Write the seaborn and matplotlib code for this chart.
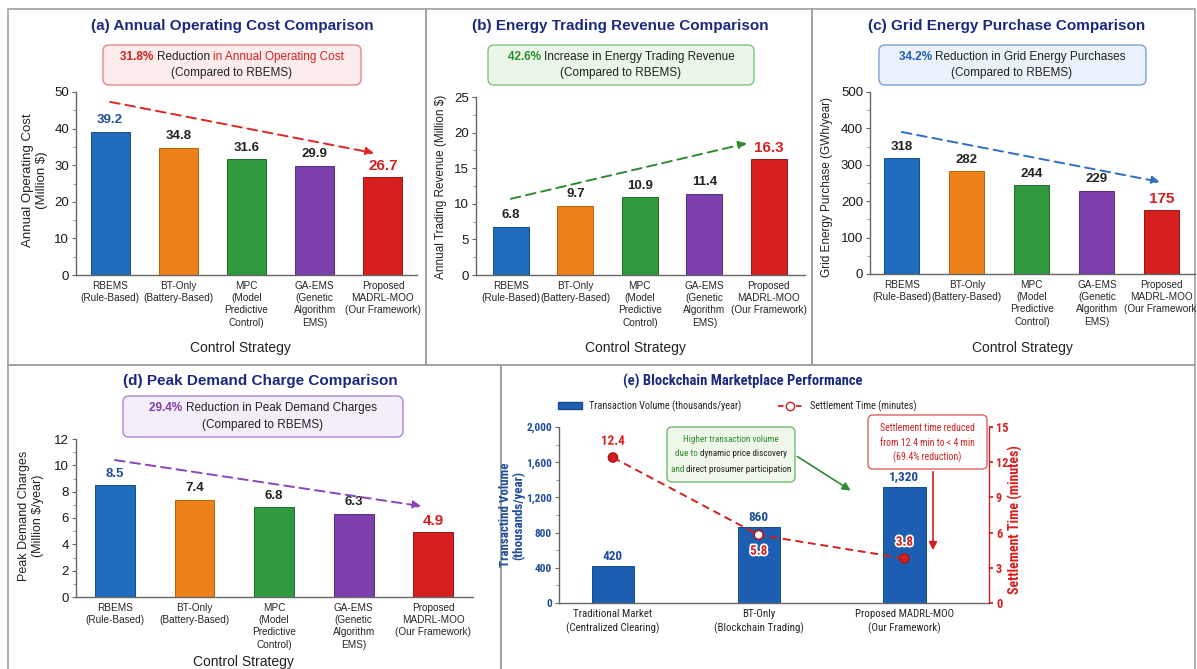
import numpy as np
import pandas as pd
import matplotlib
matplotlib.use("Agg")
import matplotlib.pyplot as plt
import matplotlib.patheffects as pe
import seaborn as sns
from matplotlib import font_manager as fm
from matplotlib.patches import Rectangle, FancyBboxPatch, FancyArrowPatch, Patch
from matplotlib.lines import Line2D
from matplotlib.transforms import IdentityTransform
from matplotlib.ticker import MultipleLocator, FuncFormatter

# ---------------- data ----------------
strategies = [
    "RBEMS\n(Rule-Based)",
    "BT-Only\n(Battery-Based)",
    "MPC\n(Model\nPredictive\nControl)",
    "GA-EMS\n(Genetic\nAlgorithm\nEMS)",
    "Proposed\nMADRL-MOO\n(Our Framework)",
]
operating_cost = [39.2, 34.8, 31.6, 29.9, 26.7]
trading_revenue = [6.8, 9.7, 10.9, 11.4, 16.3]
grid_purchase = [318, 282, 244, 229, 175]
peak_charges = [8.5, 7.4, 6.8, 6.3, 4.9]

markets = [
    "Traditional Market\n(Centralized Clearing)",
    "BT-Only\n(Blockchain Trading)",
    "Proposed MADRL-MOO\n(Our Framework)",
]
transaction_volume = [420, 860, 1320]
settlement_time = [12.4, 5.8, 3.8]

# ---------------- style ----------------
sns.set_theme(style="white")
plt.rcParams["font.family"] = ["Liberation Sans", "DejaVu Sans"]

# a condensed sans face for the blockchain panel, if one is installed
_cond = {}
_pref = ["Liberation Sans Narrow", "Roboto Condensed", "Roboto", "Noto Sans",
         "Open Sans", "DejaVu Sans Condensed", "DejaVu Sans"]
_entries = [f for f in fm.fontManager.ttflist
            if f.stretch in ("condensed", "semi-condensed", "extra-condensed")
            or "Narrow" in f.name or "Condensed" in f.name]
for name in _pref:
    hits = [f for f in _entries if f.name == name]
    if hits:
        _cond = dict(family=[name, "Liberation Sans"], stretch=hits[0].stretch)
        break
if _cond:
    COND = _cond
    CS = 1.0
else:
    COND = dict(family=["Liberation Sans"])
    CS = 0.85

BLUE, ORANGE, GREEN, PURPLE, RED = "#1f6cbf", "#ee8119", "#2e9a3d", "#7e3fae", "#d61f1f"
BAR_COLORS = [BLUE, ORANGE, GREEN, PURPLE, RED]
EDGE_COLORS = ["#174f8c", "#b5620f", "#206d2b", "#5a2c7e", "#9c1515"]
NAVY = "#1b2a80"
LABEL_BLUE = "#1f4e9a"
DARK = "#222222"

W, H = 1197, 669
fig = plt.figure(figsize=(W / 100, H / 100), dpi=100)
renderer = fig.canvas.get_renderer()


def fxy(x, y):
    return x / W, 1 - y / H


def axes_px(l, t, r, b):
    ax = fig.add_axes([l / W, 1 - b / H, (r - l) / W, (b - t) / H])
    ax.patch.set_alpha(0)
    return ax


def ftext(x, y, s, **kw):
    return fig.text(*fxy(x, y), s, **kw)


def rich_line(cx, cy, parts, size, props=None, zorder=6):
    texts = []
    for s, color, weight in parts:
        kw = dict(color=color, fontweight=weight, fontsize=size, zorder=zorder,
                  transform=IdentityTransform(), va="center", ha="left")
        if props:
            kw.update(props)
        texts.append(fig.text(0, 0, s, **kw))
    widths = [t.get_window_extent(renderer).width for t in texts]
    x = cx - sum(widths) / 2
    for t, w in zip(texts, widths):
        t.set_position((x, H - cy))
        x += w


def box_px(x0, y0, x1, y1, face, edge, lw=1.0, r=6, zorder=4):
    fig.add_artist(FancyBboxPatch((x0, H - y1), x1 - x0, y1 - y0,
                                  boxstyle=f"round,pad=0,rounding_size={r}",
                                  transform=IdentityTransform(),
                                  facecolor=face, edgecolor=edge, lw=lw, zorder=zorder))


# panel frames
for (x0, y0, x1, y1) in [(8, 9, 426, 365), (426, 9, 812, 365), (812, 9, 1195, 365),
                         (8, 365, 501, 700), (501, 365, 1195, 700)]:
    fig.add_artist(Rectangle((x0, H - y1), x1 - x0, y1 - y0, transform=IdentityTransform(),
                             fill=False, edgecolor="#a0a0a0", lw=1.2, zorder=-1))


def style_axes(ax, ymax, step, tick_size=9.5):
    sns.despine(ax=ax)
    for s in ("left", "bottom"):
        ax.spines[s].set_color("#666666")
        ax.spines[s].set_linewidth(1.0)
    ax.set_ylim(0, ymax)
    ax.yaxis.set_major_locator(MultipleLocator(step))
    ax.yaxis.set_minor_locator(MultipleLocator(step / 2))
    ax.tick_params(axis="y", which="major", direction="out", length=3, width=0.8,
                   color="#666666", labelsize=tick_size, pad=2, left=True,
                   labelcolor="#1a1a1a")
    ax.tick_params(axis="y", which="minor", direction="out", length=2, width=0.6,
                   color="#888888", left=True)
    ax.tick_params(axis="x", length=0, pad=4)
    ax.set_xlabel("")
    ax.set_ylabel("")
    ax.grid(False)


def bar_panel(rect, values, width, xlim, ymax, step, label_colors, arrow, arrow_color):
    ax = axes_px(*rect)
    df = pd.DataFrame({"Strategy": strategies, "Value": values})
    sns.barplot(data=df, x="Strategy", y="Value", hue="Strategy", palette=BAR_COLORS,
                width=width, saturation=1, legend=False, ax=ax)
    for p, ec in zip(ax.patches, EDGE_COLORS):
        p.set_edgecolor(ec)
        p.set_linewidth(0.7)
    ax.set_xlim(*xlim)
    style_axes(ax, ymax, step)
    ax.set_xticks(range(len(strategies)))
    ax.set_xticklabels(strategies, fontsize=7.2, linespacing=1.3)
    for i, v in enumerate(values):
        last = i == len(values) - 1
        ax.annotate(f"{v}", (i, v), xytext=(0, 3 if last else 4), textcoords="offset points",
                    ha="center", va="bottom", fontweight="bold",
                    fontsize=11 if last else 9.5, color=label_colors[i])
    (x0, y0), (x1, y1) = arrow
    ax.annotate("", xy=(x1, y1), xytext=(x0, y0),
                arrowprops=dict(arrowstyle="-|>", linestyle=(0, (5, 3)), color=arrow_color,
                                lw=1.4, mutation_scale=12, shrinkA=0, shrinkB=0))
    return ax


# ---------------- (a) ----------------
bar_panel((76, 92, 417, 275), operating_cost, 0.57, (-0.5, 4.5), 50, 10,
          [LABEL_BLUE, DARK, DARK, DARK, RED], ((0, 47.3), (3.87, 33.3)), "#e02525")
ftext(232, 26, "(a) Annual Operating Cost Comparison", ha="center", va="center",
      fontsize=11, fontweight="bold", color=NAVY)
box_px(103, 45, 361, 85, "#fdecec", "#e58585")
rich_line(232, 57, [("31.8% ", RED, "bold"), ("Reduction ", DARK, "normal"),
                    ("in Annual Operating Cost", RED, "normal")], 8.5)
rich_line(232, 73, [("(Compared to RBEMS)", DARK, "normal")], 8.5)
ftext(35, 180, "Annual Operating Cost\n(Million $)", rotation=90, ha="center", va="center",
      fontsize=9.5, color=DARK, linespacing=1.2)
ftext(240, 348, "Control Strategy", ha="center", va="center", fontsize=10, color=DARK)

# ---------------- (b) ----------------
bar_panel((476, 97, 805, 275), trading_revenue, 0.56, (-0.54, 4.56), 25, 5,
          [DARK, DARK, DARK, DARK, RED], ((0, 10.7), (3.66, 18.5)), "#2e8b2e")
ftext(620, 26, "(b) Energy Trading Revenue Comparison", ha="center", va="center",
      fontsize=11, fontweight="bold", color=NAVY)
box_px(488, 45, 754, 85, "#eaf6e8", "#82c27e")
rich_line(621, 57, [("42.6% ", "#2e8b2e", "bold"),
                    ("Increase in Energy Trading Revenue", DARK, "normal")], 8.5)
rich_line(621, 73, [("(Compared to RBEMS)", DARK, "normal")], 8.5)
ftext(441, 187, "Annual Trading Revenue (Million $)", rotation=90, ha="center", va="center",
      fontsize=8.5, color=DARK)
ftext(635, 348, "Control Strategy", ha="center", va="center", fontsize=10, color=DARK)

# ---------------- (c) ----------------
bar_panel((870, 92, 1195, 274), grid_purchase, 0.54, (-0.49, 4.51), 500, 100,
          [DARK, DARK, DARK, DARK, RED], ((0, 390), (3.97, 253)), "#2f6fc0")
ftext(1007, 26, "(c) Grid Energy Purchase Comparison", ha="center", va="center",
      fontsize=11, fontweight="bold", color=NAVY)
box_px(879, 45, 1146, 85, "#eaf1fb", "#7aa3d6")
rich_line(1012, 57, [("34.2% ", "#1f5fb0", "bold"),
                     ("Reduction in Grid Energy Purchases", DARK, "normal")], 8.5)
rich_line(1012, 73, [("(Compared to RBEMS)", DARK, "normal")], 8.5)
ftext(827, 187, "Grid Energy Purchase (GWh/year)", rotation=90, ha="center", va="center",
      fontsize=8.5, color=DARK)
ftext(1022, 348, "Control Strategy", ha="center", va="center", fontsize=10, color=DARK)

# ---------------- (d) ----------------
bar_panel((76, 439, 473, 597), peak_charges, 0.5, (-0.49, 4.5), 12, 2,
          [LABEL_BLUE, DARK, DARK, DARK, RED], ((0, 10.4), (3.85, 6.9)), "#8a45b8")
ftext(260, 381, "(d) Peak Demand Charge Comparison", ha="center", va="center",
      fontsize=11, fontweight="bold", color=NAVY)
box_px(123, 396, 403, 437, "#f4eefb", "#ab86cf")
rich_line(263, 408, [("29.4% ", "#7e3fae", "bold"),
                     ("Reduction in Peak Demand Charges", DARK, "normal")], 8.5)
rich_line(263, 425, [("(Compared to RBEMS)", DARK, "normal")], 8.5)
ftext(31, 516, "Peak Demand Charges\n(Million $/year)", rotation=90, ha="center", va="center",
      fontsize=9, color=DARK, linespacing=1.2)
ftext(243, 662, "Control Strategy", ha="center", va="center", fontsize=10, color=DARK)

# ---------------- (e) ----------------
VOL_BLUE = "#1c5fb2"
axe = axes_px(559, 427, 989, 603)
dfe = pd.DataFrame({"Market": markets, "Volume": transaction_volume})
sns.barplot(data=dfe, x="Market", y="Volume", color=VOL_BLUE, width=0.29,
            saturation=1, ax=axe)
for p in axe.patches:
    p.set_edgecolor("#154a8c")
    p.set_linewidth(0.7)
axe.set_xlim(-0.37, 2.58)
style_axes(axe, 2000, 400)
axe.yaxis.set_major_formatter(FuncFormatter(lambda v, _: f"{int(v):,}"))
for lab in axe.get_yticklabels():
    lab.set_color(LABEL_BLUE)
    lab.set_fontweight("bold")
    lab.set_fontsize(8.2 * CS)
    lab.set(**COND)
axe.set_xticks(range(len(markets)))
axe.set_xticklabels(markets, fontsize=7.8 * CS, linespacing=1.45, **COND)
for i, v in enumerate(transaction_volume):
    axe.annotate(f"{v:,}", (i, v), xytext=(0, 2.5), textcoords="offset points", ha="center",
                 va="bottom", fontsize=9.5 * CS, fontweight="bold", color=LABEL_BLUE, **COND)

ax2 = axe.twinx()
ax2.patch.set_alpha(0)
sns.lineplot(x=np.arange(len(settlement_time)), y=settlement_time, ax=ax2, color=RED,
             linestyle=(0, (4, 2.5)), lw=1.4)
ax2.scatter(np.arange(len(settlement_time)), settlement_time, s=42,
            facecolors=[RED, "white", RED], edgecolors="#b01818", linewidths=1.2, zorder=5)
ax2.set_ylim(0, 15)
ax2.set_xlim(-0.37, 2.58)
ax2.yaxis.set_major_locator(MultipleLocator(3))
ax2.tick_params(axis="y", direction="out", length=3, color=RED, labelcolor=RED,
                labelsize=8.8 * CS, pad=2, right=True)
for lab in ax2.get_yticklabels():
    lab.set_fontweight("bold")
    lab.set(**COND)
for s in ("top", "left", "bottom"):
    ax2.spines[s].set_visible(False)
ax2.spines["right"].set_color(RED)
ax2.spines["right"].set_linewidth(1.0)
ax2.set_ylabel("")
ax2.grid(False)
halo = [pe.withStroke(linewidth=2.5, foreground="white")]
for i, v in enumerate(settlement_time):
    below = i == 1
    ax2.annotate(f"{v}", (i, v), xytext=(0, -7 if below else 7), textcoords="offset points",
                 ha="center", va="top" if below else "bottom", fontsize=9.5 * CS,
                 fontweight="bold", color=RED, zorder=6, path_effects=halo, **COND)

ftext(743, 381, "(e) Blockchain Marketplace Performance", ha="center", va="center",
      fontsize=10.5 * CS, fontweight="bold", color=NAVY, **COND)
ftext(512, 515, "Transactind Volume\n(thousands/year)", rotation=90, ha="center",
      va="center", fontsize=9.4 * CS, fontweight="bold", color=LABEL_BLUE, linespacing=1.05,
      **COND)
ftext(1015, 520, "Settlement Time (minutes)", rotation=90, ha="center", va="center",
      fontsize=10 * CS, fontweight="bold", color=RED, **COND)

handles = [Patch(facecolor=VOL_BLUE, edgecolor="#154a8c"),
           Line2D([], [], color=RED, linestyle=(0, (3, 2)), lw=1.3, marker="o",
                  markerfacecolor="white", markeredgecolor=RED, markersize=6)]
leg_prop = dict(size=7.3 * CS, family=COND["family"])
if "stretch" in COND:
    leg_prop["stretch"] = COND["stretch"]
fig.legend(handles, ["Transaction Volume (thousands/year)", "Settlement Time (minutes)"],
           loc="center", bbox_to_anchor=fxy(737, 406), ncol=2, frameon=False,
           columnspacing=3.6, handlelength=2.4, handletextpad=0.7, prop=leg_prop)

# green note
box_px(667, 427, 795, 482, "#eef7ea", "#72b96e", r=5)
GN = "#2e8b2e"
rich_line(731, 439, [("Higher transaction volume", GN, "normal")], 6.6 * CS, COND)
rich_line(731, 454, [("due to ", GN, "normal"), ("dynamic price discovery", DARK, "normal")],
          6.6 * CS, COND)
rich_line(731, 469, [("and ", GN, "normal"), ("direct prosumer participation", DARK, "normal")],
          6.6 * CS, COND)
fig.add_artist(FancyArrowPatch(fxy(795, 455), fxy(853, 492), transform=fig.transFigure,
                               arrowstyle="-|>", mutation_scale=12, color=GN, lw=1.2,
                               zorder=6))

# red note
box_px(868, 415, 987, 469, "white", "#e06060", r=5)
for y, s in [(428, "Settlement time reduced"), (442.5, "from 12.4 min to < 4 min"),
             (457, "(69.4% reduction)")]:
    ftext(927, y, s, ha="center", va="center", fontsize=7 * CS, color=RED, zorder=6, **COND)
fig.add_artist(FancyArrowPatch(fxy(933, 469), fxy(933, 553), transform=fig.transFigure,
                               arrowstyle="-|>", mutation_scale=12, color=RED, lw=1.2,
                               zorder=6))

fig.savefig("out.png", dpi=100, facecolor="white")
